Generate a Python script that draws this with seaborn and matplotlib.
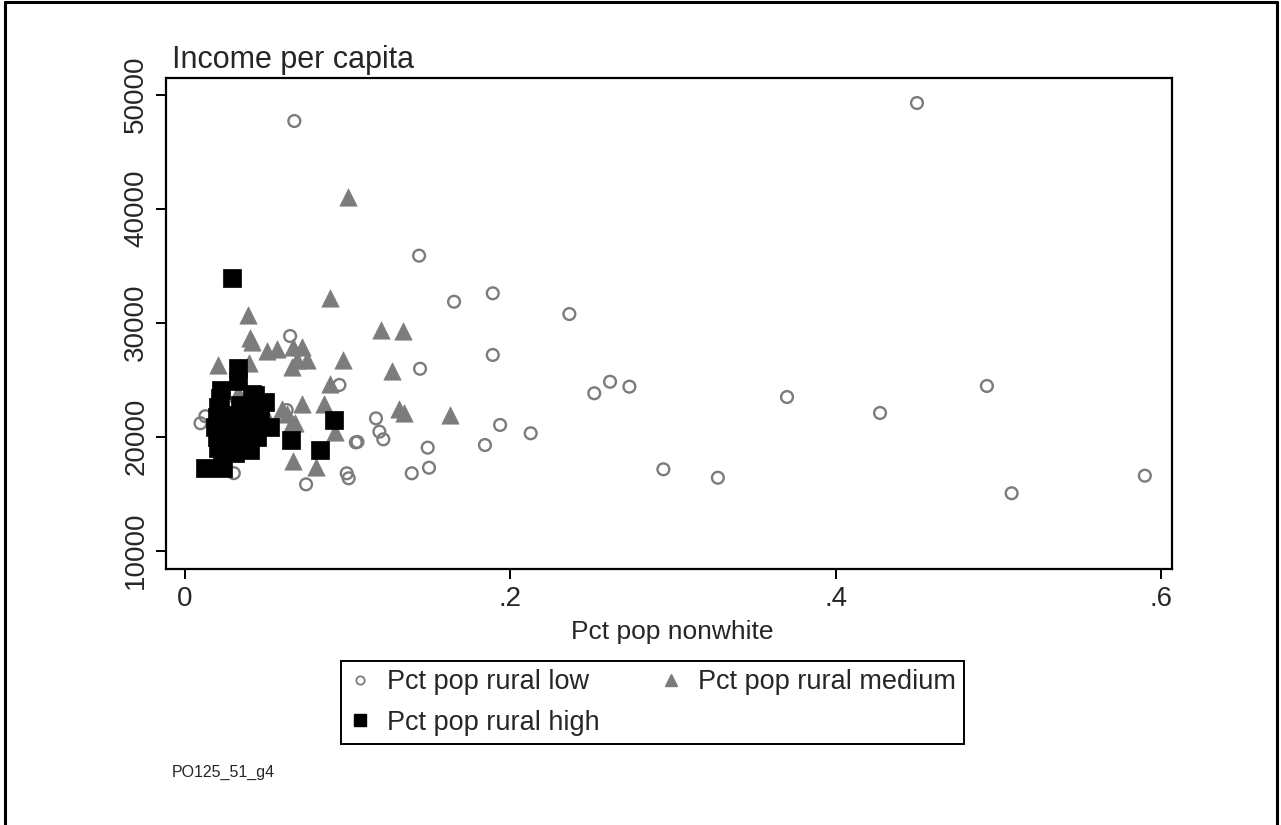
import matplotlib
matplotlib.use("Agg")
import matplotlib.pyplot as plt
import seaborn as sns
import pandas as pd
from matplotlib.lines import Line2D

# ---- data ----
low_x = [0.0672, 0.450, 0.1439, 0.1654, 0.1892, 0.2363, 0.1892, 0.1445, 0.2516, 0.2613,
         0.2732, 0.1937, 0.2125, 0.1844, 0.1492, 0.1500, 0.1394, 0.2941, 0.3276, 0.3701,
         0.4273, 0.4930, 0.5082, 0.5901, 0.0646, 0.0949, 0.0625, 0.1174, 0.1195, 0.1219,
         0.1050, 0.1060, 0.0994, 0.1006, 0.0744, 0.0095, 0.0125, 0.0300]
low_y = [47690, 49270, 35880, 31840, 32580, 30760, 27170, 25960, 23810, 24820,
         24390, 21030, 20300, 19270, 19040, 17280, 16790, 17140, 16400, 23480,
         22080, 24450, 15040, 16580, 28830, 24540, 22340, 21610, 20440, 19770,
         19500, 19540, 16790, 16350, 15820, 21180, 21800, 16800]

med_x = [0.1000, 0.0891, 0.0389, 0.0400, 0.0410, 0.0506, 0.0564, 0.0666, 0.0718, 0.0687,
         0.0748, 0.0656, 0.0970, 0.0205, 0.0395, 0.0891, 0.0328, 0.0718, 0.0856, 0.0594,
         0.0625, 0.0656, 0.0676, 0.0922, 0.0666, 0.0804, 0.1203, 0.1338, 0.1271, 0.1318,
         0.1346, 0.1630, 0.0500]
med_y = [41000, 32190, 30680, 28620, 28320, 27540, 27670, 27900, 27840, 26730,
         26730, 26140, 26730, 26290, 26490, 24600, 23810, 22870, 22840, 22400,
         21990, 21180, 21180, 20440, 17890, 17320, 29360, 29250, 25790, 22400,
         22100, 21900, 21900]

high_x = [0.0291, 0.0328, 0.0328, 0.0221, 0.0430, 0.0492, 0.0215, 0.0205, 0.0338, 0.0400,
          0.0195, 0.0277, 0.0358, 0.0461, 0.0523, 0.0184, 0.0256, 0.0338, 0.0420, 0.0195,
          0.0277, 0.0358, 0.0441, 0.0400, 0.0307, 0.0205, 0.0225, 0.0123, 0.0235, 0.0650,
          0.0830, 0.0918, 0.0410]
high_y = [33950, 26000, 24900, 24100, 23660, 23070, 23370, 22630, 22780, 22340,
          21750, 21900, 21460, 21460, 20880, 20880, 20740, 20590, 20440, 20000,
          19710, 19710, 20000, 18830, 18540, 18980, 18100, 17230, 17230, 19710,
          18830, 21460, 23750]

group_labels = ["Pct pop rural low", "Pct pop rural medium", "Pct pop rural high"]
x_ticks = [0, 0.2, 0.4, 0.6]
x_tick_labels = ["0", ".2", ".4", ".6"]
y_ticks = [10000, 20000, 30000, 40000, 50000]
y_tick_labels = ["10000", "20000", "30000", "40000", "50000"]

df = pd.DataFrame({
    "x": low_x + med_x + high_x,
    "y": low_y + med_y + high_y,
    "group": [group_labels[0]] * len(low_x) + [group_labels[1]] * len(med_x)
             + [group_labels[2]] * len(high_x),
})

sns.set_style("white")
plt.rcParams["font.family"] = ["Liberation Sans", "DejaVu Sans"]

W, H = 1281, 825
fig = plt.figure(figsize=(W / 100, H / 100), dpi=100)
fig.patch.set_facecolor("white")
ax = fig.add_axes([166 / W, 1 - 569 / H, (1172 - 166) / W, (569 - 78) / H])

GRAY = "#7c7c7c"
sns.scatterplot(data=df[df.group == group_labels[0]], x="x", y="y", ax=ax,
                marker="o", s=72, facecolor="none", edgecolor=GRAY, linewidth=1.7,
                legend=False, zorder=3)
sns.scatterplot(data=df[df.group == group_labels[1]], x="x", y="y", ax=ax,
                marker="^", s=155, color=GRAY, edgecolor=GRAY, linewidth=0.5,
                legend=False, zorder=4)
sns.scatterplot(data=df[df.group == group_labels[2]], x="x", y="y", ax=ax,
                marker="s", s=150, color="black", edgecolor="black", linewidth=0.5,
                legend=False, zorder=5)

ax.set_xlim(-0.0117, 0.6068)
ax.set_ylim(8394, 51465)
ax.set_xticks(x_ticks)
ax.set_xticklabels(x_tick_labels, fontsize=20)
ax.set_yticks(y_ticks)
ax.set_yticklabels(y_tick_labels, fontsize=20, rotation=90, va="center")
ax.tick_params(axis="both", direction="out", length=7, width=1.4, color="black",
               pad=5, left=True, bottom=True)
ax.set_xlabel("")
ax.set_ylabel("")
for sp in ax.spines.values():
    sp.set_visible(True)
    sp.set_color("black")
    sp.set_linewidth(1.6)

fig.text(172 / W, 1 - 68 / H, "Income per capita", fontsize=22, ha="left", va="baseline")
fig.text(672 / W, 1 - 632 / H, "Pct pop nonwhite", fontsize=19, ha="center", va="center")
fig.text(172 / W, 1 - 772 / H, "PO125_51_g4", fontsize=11.5, ha="left", va="center")

handles = [
    Line2D([], [], linestyle="none", marker="o", markersize=6, markerfacecolor="none",
           markeredgecolor=GRAY, markeredgewidth=1.3),
    Line2D([], [], linestyle="none", marker="s", markersize=8, markerfacecolor="black",
           markeredgecolor="black"),
    Line2D([], [], linestyle="none", marker="^", markersize=9, markerfacecolor=GRAY,
           markeredgecolor=GRAY),
]
labels = [group_labels[0], group_labels[2], group_labels[1]]
leg = fig.legend(handles, labels, loc="center", ncol=2,
                 bbox_to_anchor=(652.5 / W, 1 - 702.5 / H), fontsize=19.5,
                 frameon=True, fancybox=False, edgecolor="black", framealpha=1,
                 handlelength=0.8, handletextpad=0.6, columnspacing=2.2,
                 borderpad=0.3, labelspacing=0.55, borderaxespad=0)
leg.get_frame().set_linewidth(1.4)

# outer frame (left, top, right only)
for xs, ys in [([5 / W, 5 / W], [0, 1 - 2 / H]),
               ([5 / W, 1277 / W], [1 - 2 / H, 1 - 2 / H]),
               ([1277 / W, 1277 / W], [1 - 2 / H, 0])]:
    fig.add_artist(Line2D(xs, ys, transform=fig.transFigure, color="black", linewidth=2.2))

fig.savefig("out.png", dpi=100, facecolor="white")
